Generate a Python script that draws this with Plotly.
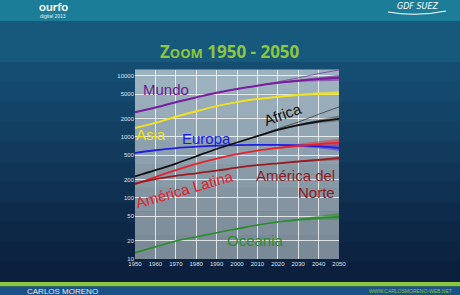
import plotly.graph_objects as go
import math

W, H = 460, 295
L, R, T, B = 135, 339, 70, 259

years = [1950, 1960, 1970, 1980, 1990, 2000, 2010, 2020, 2030, 2040, 2050]
mundo = [2530, 3030, 3700, 4450, 5310, 6130, 6920, 7720, 8310, 8880, 9300]
asia = [1400, 1700, 2140, 2630, 3200, 3720, 4170, 4560, 4890, 5110, 5220]
europa = [549, 605, 657, 694, 721, 735, 740, 740, 725, 700, 660]
africa = [225, 285, 366, 482, 635, 811, 1030, 1300, 1560, 1790, 1980]
latina = [168, 220, 286, 362, 443, 522, 596, 660, 715, 765, 810]
norte = [172, 204, 231, 254, 280, 313, 344, 370, 396, 422, 448]
oceania = [12.7, 15.8, 19.7, 23.0, 27.0, 31.2, 36.0, 40.5, 44.0, 47.0, 49.5]

proj_years = [2010, 2020, 2030, 2040, 2050]
mundo_lo = [6920, 7600, 7950, 8150, 8300]
mundo_hi = [6920, 7850, 8700, 9500, 10400]
mundo_const = [6920, 8000, 9300, 10900, 12500]
asia_lo = [4170, 4480, 4700, 4800, 4850]
asia_hi = [4170, 4640, 5080, 5400, 5650]
europa_lo = [740, 730, 700, 650, 590]
europa_hi = [740, 750, 750, 750, 760]
africa_lo = [1030, 1280, 1500, 1680, 1800]
africa_hi = [1030, 1320, 1620, 1920, 2250]
africa_const = [1030, 1360, 1750, 2350, 3100]
latina_lo = [596, 640, 680, 700, 720]
latina_hi = [596, 690, 775, 850, 930]
norte_lo = [344, 365, 385, 400, 415]
norte_hi = [344, 375, 405, 440, 480]
oceania_lo = [36.0, 40.0, 42.5, 44.0, 45.0]
oceania_hi = [36.0, 41.0, 45.5, 51.0, 57.0]

y_ticks = [10, 20, 50, 100, 200, 500, 1000, 2000, 5000, 10000]
x_ticks = years


def px(xp):
    return (xp - L) / (R - L)


def py(yp):
    return (B - yp) / (B - T)


fig = go.Figure()


def band(xs, lo, hi, color):
    fig.add_trace(go.Scatter(x=xs, y=lo, mode="lines", line=dict(width=0, color=color, shape="spline"),
                             hoverinfo="skip", showlegend=False))
    fig.add_trace(go.Scatter(x=xs, y=hi, mode="lines", line=dict(width=0, color=color, shape="spline"),
                             fill="tonexty", fillcolor=color, hoverinfo="skip", showlegend=False))


def line(xs, ys, color, width=1.8):
    fig.add_trace(go.Scatter(x=xs, y=ys, mode="lines", line=dict(color=color, width=width, shape="spline"),
                             showlegend=False))


band(proj_years, mundo_lo, mundo_hi, "rgba(125,30,160,0.55)")
band(proj_years, asia_lo, asia_hi, "rgba(240,225,40,0.5)")
band(proj_years, europa_lo, europa_hi, "rgba(60,40,230,0.5)")
band(proj_years, africa_lo, africa_hi, "rgba(60,60,60,0.45)")
band(proj_years, latina_lo, latina_hi, "rgba(230,40,50,0.45)")
band(proj_years, norte_lo, norte_hi, "rgba(150,30,30,0.4)")
band(proj_years, oceania_lo, oceania_hi, "rgba(40,140,40,0.5)")

line(proj_years, mundo_const, "rgba(110,30,150,0.8)", 0.8)
line(proj_years, africa_const, "rgba(30,30,30,0.8)", 0.8)

line(years, mundo, "#7a1c9e", 2)
line(years, asia, "#f2e21e", 2)
line(years, europa, "#1e1ee6", 1.8)
line(years, africa, "#111111", 1.8)
line(years, latina, "#e8222c", 1.8)
line(years, norte, "#9a1c22", 1.8)
line(years, oceania, "#2a8c2a", 1.6)

shapes = []


def rect(x0, y0, x1, y1, color, layer="below"):
    shapes.append(dict(type="rect", xref="paper", yref="paper", x0=px(x0), x1=px(x1),
                       y0=py(y1), y1=py(y0), fillcolor=color, line=dict(width=0), layer=layer))


rect(0, 0, W, 21, "#1c7d99")
rect(0, 21, W, 62, "#17597d")
grad = ["#154c72", "#14486d", "#134468", "#123f62", "#113a5c", "#103556",
        "#0f3050", "#0e2b4b", "#0d2746", "#0c2342", "#0b203f"]
n = len(grad)
step = (282 - 62) / n
for i, c in enumerate(grad):
    rect(0, 62 + i * step, W, 62 + (i + 1) * step + 0.5, c)
rect(0, 282, W, 286.5, "#8cc63f")
rect(0, 286.5, W, H, "#1a5287")

pgrad = ["#9db2bf", "#98acb9", "#93a6b3", "#8ea0ad", "#899aa7", "#8494a1", "#7f8f9c", "#7b8a97"]
m = len(pgrad)
for i, c in enumerate(pgrad):
    shapes.append(dict(type="rect", xref="x domain", yref="y domain", x0=0, x1=1,
                       y0=1 - (i + 1) / m, y1=1 - i / m + 0.002, fillcolor=c,
                       line=dict(width=0), layer="below"))

shapes.append(dict(type="path", xref="paper", yref="paper",
                   path=f"M {px(388)},{py(12)} Q {px(417)},{py(17)} {px(446)},{py(11)}",
                   line=dict(color="white", width=1.2), layer="above"))

fig.update_layout(shapes=shapes)

ann = []


def text(x, y, s, color, size=15, angle=0, xanchor="center", family="Liberation Sans, Arial, sans-serif"):
    ann.append(dict(x=px(x), y=py(y), xref="paper", yref="paper", text=s, showarrow=False,
                    font=dict(color=color, size=size, family=family), textangle=angle,
                    xanchor=xanchor, yanchor="middle"))


text(166, 89, "Mundo", "#6e1a92")
text(151, 134, "Asia", "#f3e21c")
text(206, 138, "Europa", "#1a1ae6")
text(282, 114, "Africa", "#111111", angle=-20)
text(184, 189, "América Latina", "#e4202a", angle=-16)
text(337, 175, "América del", "#8e1a1e", xanchor="right")
text(337, 192, "Norte", "#8e1a1e", xanchor="right")
text(255, 240, "Oceania", "#2a8c2a")

text(230, 51, "<b>Z<span style='font-size:13px'>OOM</span> 1950 - 2050</b>", "#8dc63f", size=17,
     family="Open Sans, Lato, sans-serif")
text(53, 6, "<b>ourfo</b>", "white", size=12, family="Lato, sans-serif")
text(53, 16, "digital 2013", "#e0f0f5", size=5)
text(417, 6, "<i>GDF SUEZ</i>", "white", size=8, family="DejaVu Sans, sans-serif")
text(62, 291, "CARLOS MORENO", "#e6eef5", size=8)
text(410, 291, "WWW.CARLOSMORENO-WEB.NET", "#8dc63f", size=5)

fig.update_layout(annotations=ann)

tick_font = dict(size=6, color="#dde6ee", family="Liberation Sans, Arial, sans-serif")
fig.update_layout(
    width=W, height=H,
    margin=dict(l=L, r=W - R, t=T, b=H - B, pad=0),
    paper_bgcolor="#0d2a4d",
    plot_bgcolor="rgba(0,0,0,0)",
    showlegend=False,
    xaxis=dict(range=[1950, 2050], tickvals=x_ticks, ticktext=[str(v) for v in x_ticks],
               showgrid=True, gridcolor="rgba(255,255,255,0.75)", gridwidth=1,
               zeroline=False, showline=False, ticks="", ticklen=0, tickfont=tick_font),
    yaxis=dict(type="log", range=[1, math.log10(12500)], tickvals=y_ticks,
               ticktext=[str(v) for v in y_ticks],
               showgrid=True, gridcolor="rgba(255,255,255,0.75)", gridwidth=1,
               zeroline=False, showline=False, ticks="", ticklen=0, tickfont=tick_font),
)

fig.write_html("out.html")
